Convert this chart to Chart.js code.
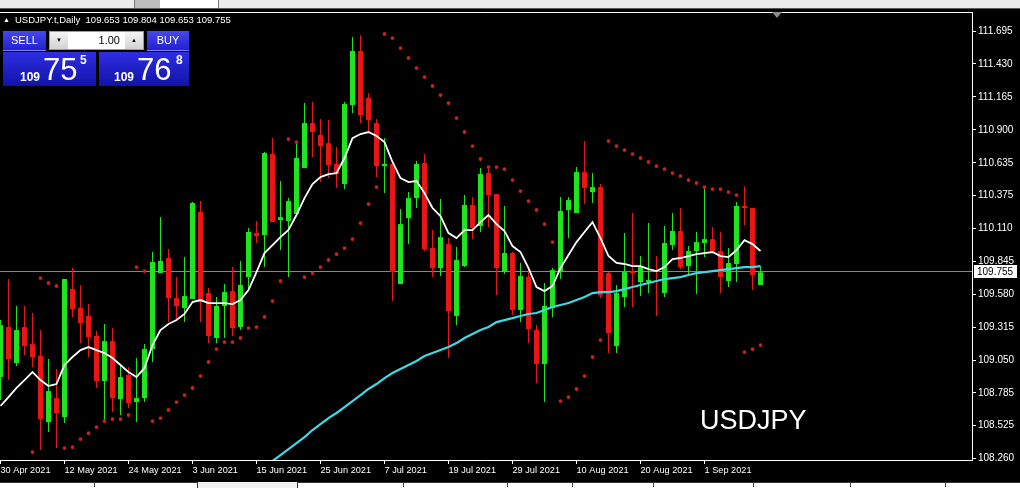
<!DOCTYPE html>
<html>
<head>
<meta charset="utf-8">
<title>USDJPY.t, Daily</title>
<script src="https://cdn.jsdelivr.net/npm/chart.js@4.4.1/dist/chart.umd.min.js"></script>
<style>
  html, body { margin:0; padding:0; background:#000; overflow:hidden; }
  #stage { position:relative; width:1020px; height:488px; background:#000; font-family:"Liberation Sans", Arial, sans-serif; overflow:hidden; }
  #chart { position:absolute; left:0; top:0; }
  .abs { position:absolute; white-space:nowrap; }
  #topbar { left:0; top:0; width:1020px; height:8px; background:#ececec; border-bottom:1px solid #5a5a5a; }
  #tab { left:134px; top:0; width:83px; height:8px; background:#fff; border-left:1px solid #777; border-right:1px solid #777; }
  #dots { left:135px; top:0; width:25px; height:8px; background-image:radial-gradient(#9a9a9a 0.6px, transparent 0.9px); background-size:2px 2px; }
  #header { left:15px; top:15px; color:#fff; font-size:9.5px; line-height:10px; }
  #tri { left:3px; top:16px; color:#fff; font-size:7px; line-height:7px; }
  .btn { color:#fff; font-size:11px; text-align:center; line-height:19px; height:20px; box-sizing:border-box;
         background:linear-gradient(#4747ee,#2222cc); border-bottom:1px solid #8080f2; }
  .pbox { background:linear-gradient(#2e2ee2,#1212aa); }
  .small { color:#fff; font-size:12px; font-weight:bold; line-height:12px; }
  .big { color:#fff; font-size:31px; line-height:31px; }
  #lot { left:49px; top:31px; width:95px; height:19px; background:#fff; box-sizing:border-box; border:1px solid #9c9c9c; }
  .lbtn { top:0; width:18px; height:17px; background:linear-gradient(#f4f4f4,#d2d2d2); font-size:6px; line-height:17px; text-align:center; color:#000; }
  #lotval { right:23px; top:2px; font-size:11px; line-height:13px; color:#000; }
  #pair { left:700px; top:407px; color:#fff; font-size:27px; line-height:27px; }
  #shift { left:772px; top:12px; width:0; height:0; border-left:5px solid transparent; border-right:5px solid transparent; border-top:6px solid #8a8a8a; }
  #botbar { left:0; top:482px; width:1020px; height:6px; background:#f0f0f0; }
  .bbox { top:482px; height:6px; background:#fff; box-sizing:border-box; border-top:1px solid #333; }
  .btick { top:483px; width:1px; height:4px; background:#444; }
</style>
</head>
<body>
<div id="stage">
  <canvas id="chart" width="1020" height="488"></canvas>

  <div class="abs" id="topbar"></div>
  <div class="abs" id="tab"></div>
  <div class="abs" id="dots"></div>

  <div class="abs" id="tri">▲</div>
  <div class="abs" id="header">USDJPY.t,Daily&nbsp; 109.653 109.804 109.653 109.755</div>

  <div class="abs btn" style="left:3px;top:31px;width:43px;">SELL</div>
  <div class="abs" id="lot">
    <div class="abs lbtn" style="left:0;">▼</div>
    <div class="abs" id="lotval">1.00</div>
    <div class="abs lbtn" style="right:0;">▲</div>
  </div>
  <div class="abs btn" style="left:147px;top:31px;width:42px;">BUY</div>

  <div class="abs pbox" style="left:3px;top:52px;width:93px;height:34px;"></div>
  <div class="abs pbox" style="left:99px;top:52px;width:90px;height:34px;"></div>
  <div class="abs small" style="left:20px;top:71px;">109</div>
  <div class="abs big" style="left:43px;top:54px;">75</div>
  <div class="abs small" style="left:80px;top:54px;">5</div>
  <div class="abs small" style="left:114px;top:71px;">109</div>
  <div class="abs big" style="left:137px;top:54px;">76</div>
  <div class="abs small" style="left:176px;top:54px;">8</div>

  <div class="abs" id="pair">USDJPY</div>
  <div class="abs" id="shift"></div>

  <div class="abs" id="botbar"></div>
  <div class="abs bbox" style="left:0;width:198px;border-right:1px solid #333;"></div>
  <div class="abs bbox" style="left:297px;width:723px;border-left:1px solid #333;"></div>
  <div class="abs btick" style="left:94px"></div>
  <div class="abs btick" style="left:403px"></div>
  <div class="abs btick" style="left:507px"></div>
  <div class="abs btick" style="left:572px"></div>
  <div class="abs btick" style="left:653px"></div>
  <div class="abs btick" style="left:753px"></div>
  <div class="abs btick" style="left:850px"></div>
  <div class="abs btick" style="left:945px"></div>
</div>

<script>
// ---------- DATA (daily bars, 30 Apr 2021 .. 10 Sep 2021) ----------
const xTickLabels = ['30 Apr 2021','12 May 2021','24 May 2021','3 Jun 2021','15 Jun 2021','25 Jun 2021',
                     '7 Jul 2021','19 Jul 2021','29 Jul 2021','10 Aug 2021','20 Aug 2021','1 Sep 2021'];
const xTickEvery = 8; // one date label every 8 bars

const yTicks = [111.695,111.430,111.165,110.900,110.635,110.375,110.110,109.845,109.580,109.315,109.050,108.785,108.525,108.260];

const open = [
108.913,109.315,109.026,109.315,109.178,109.082,108.551,108.744,108.592,109.621,
109.468,109.404,109.243,108.881,109.202,108.736,108.929,108.712,108.744,109.138,
109.749,109.870,109.548,109.468,109.540,110.240,109.588,109.227,109.484,109.604,
109.315,109.717,110.071,110.055,110.706,110.175,110.167,110.224,110.593,110.955,
110.859,110.794,110.626,110.465,111.100,111.534,111.156,110.955,110.609,110.626,
109.661,110.191,110.352,110.634,109.950,109.789,109.982,109.404,109.805,110.296,
110.127,110.553,110.384,109.757,109.910,109.452,109.717,109.291,109.018,109.468,
109.757,110.256,110.232,110.561,110.400,110.440,109.749,109.162,109.556,109.765,
109.677,109.677,109.685,109.588,109.974,110.087,109.805,109.926,109.990,110.022,
109.926,109.685,109.822,110.288,110.272,109.653];

const high = [
109.371,109.701,109.484,109.484,109.428,109.291,109.058,108.978,109.701,109.790,
109.653,109.500,109.283,109.339,109.307,109.002,108.994,109.066,109.178,109.918,
110.199,109.942,109.717,109.878,110.320,110.328,109.629,109.556,109.661,109.797,
109.846,110.111,110.167,110.722,110.834,110.489,110.352,110.802,111.116,111.124,
110.987,110.979,110.762,111.124,111.646,111.662,111.196,110.987,110.834,110.626,
110.264,110.400,110.650,110.706,110.095,110.344,110.030,109.958,110.376,110.360,
110.593,110.601,110.384,110.288,109.918,109.830,109.773,109.331,109.669,109.789,
110.360,110.360,110.601,110.810,110.553,110.465,109.757,109.653,110.071,110.232,
109.886,110.151,109.886,110.127,110.232,110.272,109.966,110.079,110.432,110.119,
110.079,109.950,110.320,110.448,110.272,109.804];

const low = [
108.728,108.889,109.002,109.090,108.994,108.326,108.471,108.342,108.543,109.396,
109.186,109.074,108.825,108.551,108.632,108.608,108.664,108.551,108.712,109.034,
109.749,109.355,109.371,109.355,109.540,109.355,109.186,109.186,109.227,109.243,
109.291,109.612,109.990,109.797,110.159,109.934,109.717,110.224,110.593,110.682,
110.481,110.513,110.432,110.424,111.036,110.955,110.883,110.521,110.392,109.524,
109.661,109.982,110.272,109.926,109.717,109.725,109.066,109.331,109.797,110.022,
110.079,110.119,109.572,109.741,109.412,109.355,109.186,108.865,108.712,109.396,
109.701,110.030,110.232,110.304,110.312,109.548,109.106,109.106,109.476,109.476,
109.564,109.588,109.404,109.556,109.934,109.781,109.733,109.580,109.878,109.910,
109.588,109.637,109.677,110.135,109.612,109.653];

const close = [
109.331,109.058,109.291,109.162,109.074,108.576,108.800,108.624,109.701,109.460,
109.347,109.235,108.881,109.202,108.744,108.913,108.704,108.744,109.138,109.838,
109.846,109.548,109.484,109.564,110.312,109.516,109.243,109.484,109.596,109.307,
109.653,110.079,110.047,110.714,110.159,110.199,110.328,110.674,110.955,110.883,
110.770,110.617,110.545,111.108,111.534,111.020,110.979,110.609,110.626,109.757,
110.143,110.352,110.626,109.942,109.789,110.038,109.444,109.854,110.296,110.111,
110.545,110.376,109.789,109.910,109.452,109.725,109.299,109.018,109.484,109.773,
110.248,110.336,110.561,110.432,110.440,109.572,109.267,109.588,109.757,109.749,
109.797,109.693,109.677,109.990,110.087,109.797,109.926,109.998,110.022,109.926,
109.717,109.830,110.288,110.272,109.733,109.755];

// fast moving average (white)
const maFast = [
108.680,108.752,108.825,108.889,108.953,108.889,108.841,108.857,109.010,109.074,
109.130,109.154,109.130,109.106,109.066,109.010,108.953,108.913,108.986,109.170,
109.291,109.339,109.371,109.420,109.516,109.532,109.508,109.508,109.508,109.500,
109.532,109.612,109.757,109.910,109.974,110.038,110.095,110.216,110.352,110.465,
110.521,110.545,110.553,110.674,110.834,110.867,110.883,110.851,110.802,110.642,
110.513,110.481,110.489,110.392,110.272,110.207,110.071,110.030,110.095,110.095,
110.159,110.216,110.143,110.087,109.966,109.918,109.789,109.637,109.604,109.645,
109.789,109.894,109.998,110.079,110.159,110.030,109.886,109.830,109.822,109.805,
109.805,109.781,109.765,109.797,109.862,109.870,109.886,109.902,109.910,109.918,
109.886,109.878,109.934,110.014,109.982,109.926];

// slow moving average (cyan) - below the visible range before early July
const maSlow = [
null,null,null,null,null,null,null,null,null,null,
null,null,null,null,null,null,null,null,null,null,
null,null,null,null,null,null,null,null,null,null,
null,null,
108.125,108.182,108.238,108.286,108.334,108.382,108.430,108.487,108.535,108.583,
108.624,108.672,108.720,108.768,108.817,108.857,108.905,108.945,108.978,109.010,
109.042,109.082,109.106,109.130,109.154,109.186,109.227,109.259,109.291,109.315,
109.355,109.371,109.387,109.404,109.420,109.428,109.452,109.476,109.492,109.508,
109.532,109.556,109.588,109.596,109.596,109.604,109.620,109.637,109.653,109.669,
109.685,109.701,109.709,109.717,109.733,109.749,109.757,109.765,109.773,109.781,
109.789,109.797,109.797,109.805];

// Parabolic SAR
const sar = [
null,null,null,null,
108.310,109.709,109.669,109.645,108.342,108.350,108.414,108.462,108.511,108.559,
108.575,108.575,108.608,109.797,109.765,108.559,108.583,108.648,108.712,108.768,
108.825,108.921,109.034,109.138,109.194,109.194,109.227,109.307,109.315,109.396,
109.524,109.685,110.826,110.802,109.717,109.749,109.797,109.854,109.902,109.950,
110.022,110.151,110.304,110.440,111.671,111.638,111.558,111.478,111.397,111.325,
111.253,111.180,111.116,110.995,110.883,110.770,110.666,110.601,110.601,110.585,
110.497,110.408,110.328,110.256,110.143,109.998,108.720,108.752,108.817,108.921,
109.074,109.210,110.810,110.770,110.738,110.706,110.674,110.642,110.609,110.585,
110.553,110.529,110.497,110.473,110.440,110.424,110.424,110.400,110.376,109.114,
109.138,109.170];

// ---------- CHART ----------
const FONT = '"Liberation Sans", Arial, sans-serif';
const GREEN = '#1fe41f', RED = '#ea1515';
const lastClose = close[close.length - 1];
const idx = close.map((_, i) => i);
const isUp = idx.map(i => close[i] >= open[i]);
const candleColor = ctx => isUp[ctx.dataIndex] ? GREEN : RED;

const wicks = idx.map(i => ({ x: i, y: [low[i], high[i]] }));
const bodies = idx.map(i => ({ x: i, y: [Math.min(open[i], close[i]), Math.max(open[i], close[i])] }));
const fastPts = idx.map(i => ({ x: i, y: maFast[i] }));
const slowPts = idx.filter(i => maSlow[i] !== null).map(i => ({ x: i, y: maSlow[i] }));
const sarPts = idx.filter(i => sar[i] !== null).map(i => ({ x: i, y: sar[i] }));
const xTickIdx = xTickLabels.map((_, k) => k * xTickEvery);

const decor = {
  id: 'decor',
  beforeDatasetsDraw(chart) {
    const { ctx, chartArea: a, scales: { y } } = chart;
    const py = Math.round(y.getPixelForValue(lastClose)) - 0.5;
    ctx.save();
    ctx.strokeStyle = '#7d8a96';
    ctx.lineWidth = 1;
    ctx.beginPath(); ctx.moveTo(a.left, py); ctx.lineTo(a.right, py); ctx.stroke();
    ctx.restore();
  },
  afterDraw(chart) {
    const { ctx, chartArea: a, scales: { y } } = chart;
    ctx.save();
    ctx.strokeStyle = '#ffffff';
    ctx.lineWidth = 1;
    ctx.beginPath(); ctx.moveTo(a.left, a.top + 0.5); ctx.lineTo(a.right + 0.5, a.top + 0.5); ctx.stroke();
    const py = Math.round(y.getPixelForValue(lastClose)) - 0.5;
    ctx.fillStyle = '#ffffff';
    ctx.fillRect(a.right + 2, py - 6.5, 43, 13);
    ctx.fillStyle = '#000000';
    ctx.font = '10px ' + FONT;
    ctx.textBaseline = 'middle';
    ctx.fillText(lastClose.toFixed(3), a.right + 5, py + 0.5);
    ctx.restore();
  }
};

Chart.defaults.font.family = FONT;

new Chart(document.getElementById('chart'), {
  type: 'bar',
  data: {
    datasets: [
      { type: 'line', label: 'SAR', data: sarPts, showLine: false, pointRadius: 1.9, pointHoverRadius: 0,
        pointBorderWidth: 0, pointBackgroundColor: '#d41c1c', order: 0, clip: 0 },
      { type: 'line', label: 'MA fast', data: fastPts, borderColor: '#ffffff', borderWidth: 1.8,
        pointRadius: 0, pointHoverRadius: 0, tension: 0, order: 1, clip: 0 },
      { type: 'line', label: 'MA slow', data: slowPts, borderColor: '#3fd8e4', borderWidth: 2.2,
        pointRadius: 0, pointHoverRadius: 0, tension: 0, order: 1, clip: 0 },
      { type: 'bar', label: 'body', data: bodies, backgroundColor: candleColor, barThickness: 5,
        grouped: false, borderWidth: 0, inflateAmount: 0, order: 2 },
      { type: 'bar', label: 'wick', data: wicks, backgroundColor: candleColor, barThickness: 1,
        grouped: false, borderWidth: 0, inflateAmount: 0, order: 3 }
    ]
  },
  options: {
    responsive: false,
    animation: false,
    devicePixelRatio: 1,
    layout: { autoPadding: false, padding: { top: 12, left: 0, right: 0, bottom: 0 } },
    plugins: { legend: { display: false }, tooltip: { enabled: false } },
    scales: {
      x: {
        type: 'linear', offset: false,
        min: -0.0625, max: 121.4375,
        grid: { drawOnChartArea: false, drawTicks: true, tickLength: 4, color: '#ffffff', offset: false },
        border: { display: true, color: '#ffffff' },
        ticks: { color: '#ffffff', font: { size: 9.2 }, align: 'start', maxRotation: 0, autoSkip: false, padding: 1,
                 callback: (v, i) => xTickLabels[i] },
        afterBuildTicks: s => { s.ticks = xTickIdx.map(v => ({ value: v })); },
        afterFit: s => { s.height = 28; s.paddingLeft = 0; s.paddingRight = 0; }
      },
      y: {
        type: 'linear', position: 'right',
        min: 108.246, max: 111.848,
        grid: { drawOnChartArea: false, drawTicks: true, tickLength: 4, color: '#ffffff' },
        border: { display: true, color: '#ffffff' },
        ticks: { color: '#ffffff', font: { size: 10 }, padding: 2, callback: v => v.toFixed(3) },
        afterBuildTicks: s => { s.ticks = yTicks.map(v => ({ value: v })); },
        afterFit: s => { s.width = 48; s.paddingTop = 0; s.paddingBottom = 0; }
      }
    }
  },
  plugins: [decor]
});
</script>
</body>
</html>
